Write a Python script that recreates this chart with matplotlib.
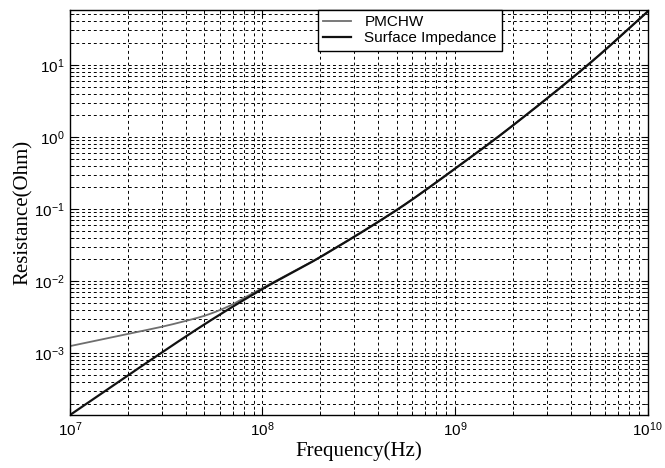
import matplotlib
matplotlib.use('Agg')
import matplotlib.pyplot as plt
import numpy as np

plt.rcParams['font.family'] = 'Liberation Sans'
plt.rcParams['mathtext.fontset'] = 'custom'
plt.rcParams['mathtext.rm'] = 'Liberation Sans'
plt.rcParams['mathtext.it'] = 'Liberation Sans:italic'

# values
freq_si = [1e7, 2e7, 5e7, 1e8, 2e8, 5e8, 1e9, 2e9, 5e9, 1e10]
surf_imp = [1.38e-4, 4.9e-4, 2.51e-3, 7.76e-3, 2.16e-2, 9.77e-2,
            0.363, 1.45, 10.5, 55.0]

freq_pm = [1e7, 2e7, 3e7, 4e7, 5e7, 6e7, 7e7, 8e7, 1e8, 1.5e8, 2e8, 5e8,
           1e9, 2e9, 5e9, 1e10]
pmchw = [1.25e-3, 1.85e-3, 2.32e-3, 2.8e-3, 3.3e-3, 3.95e-3, 4.75e-3, 5.8e-3,
         8.0e-3, 1.42e-2, 2.16e-2, 9.77e-2,
         0.363, 1.45, 10.5, 55.0]


def smooth_loglog(f, v, n=600):
    # catmull-rom through the read points, done in log-log space
    x = np.log10(f)
    y = np.log10(v)
    xs, ys = [], []
    for i in range(len(x) - 1):
        x0, x1 = x[max(i - 1, 0)], x[i]
        x2, x3 = x[i + 1], x[min(i + 2, len(x) - 1)]
        y0, y1 = y[max(i - 1, 0)], y[i]
        y2, y3 = y[i + 1], y[min(i + 2, len(y) - 1)]
        m1 = (y2 - y0) / (x2 - x0)
        m2 = (y3 - y1) / (x3 - x1)
        h = x2 - x1
        t = np.linspace(0, 1, max(int(n * h / (x[-1] - x[0])), 4), endpoint=False)
        h00 = 2 * t**3 - 3 * t**2 + 1
        h10 = t**3 - 2 * t**2 + t
        h01 = -2 * t**3 + 3 * t**2
        h11 = t**3 - t**2
        xs.append(x1 + t * h)
        ys.append(h00 * y1 + h10 * h * m1 + h01 * y2 + h11 * h * m2)
    xs.append([x[-1]])
    ys.append([y[-1]])
    return 10 ** np.concatenate(xs), 10 ** np.concatenate(ys)


fig = plt.figure(figsize=(6.65, 4.68), dpi=100)
ax = fig.add_axes([0.105, 0.113, 0.869, 0.866])

fx, fy = smooth_loglog(freq_pm, pmchw)
ax.plot(fx, fy, color='#6e6e6e', lw=1.3, label='PMCHW')
fx, fy = smooth_loglog(freq_si, surf_imp)
ax.plot(fx, fy, color='#111111', lw=1.6, label='Surface Impedance')

ax.set_xscale('log')
ax.set_yscale('log')
ax.set_xlim(1e7, 1e10)
ax.set_ylim(1.38e-4, 58)

ax.grid(True, which='both', color='black', linestyle=(0, (3, 3)), lw=0.7)
ax.tick_params(which='both', direction='in', top=True, right=True, labelsize=11)
ax.tick_params(which='major', length=5)
ax.tick_params(which='minor', length=3)
ax.set_yticks([1e-3, 1e-2, 1e-1, 1, 10])
for s in ax.spines.values():
    s.set_linewidth(1.0)

ax.set_xlabel('Frequency(Hz)', family='Liberation Serif', fontsize=15, labelpad=2)
ax.set_ylabel('Resistance(Ohm)', family='Liberation Serif', fontsize=15, labelpad=1)

leg = ax.legend(loc='upper left', bbox_to_anchor=(0.429, 1.0), fontsize=11,
                frameon=True, fancybox=False, borderaxespad=0, handlelength=1.8,
                handletextpad=0.9, borderpad=0.35, labelspacing=0.15)
leg.get_frame().set_edgecolor('black')
leg.get_frame().set_linewidth(1.0)
leg.get_frame().set_alpha(1)

fig.savefig('out.png', dpi=100)
